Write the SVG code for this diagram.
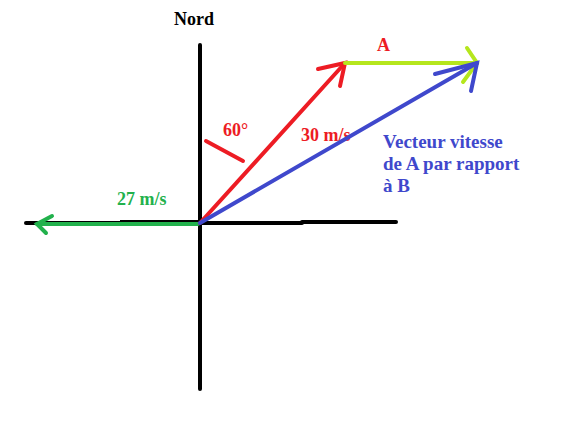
<svg xmlns="http://www.w3.org/2000/svg" width="568" height="432" viewBox="0 0 568 432">
<style>
.ax{stroke:#000;stroke-width:4;fill:none;stroke-linecap:round}
.r{stroke:#ED1C24;stroke-width:4;fill:none;stroke-linecap:round}
.g{stroke:#22B14C;stroke-width:4;fill:none;stroke-linecap:round}
.y{stroke:#B5E61D;stroke-width:4;fill:none;stroke-linecap:round}
.b{stroke:#3F48CC;stroke-width:4;fill:none;stroke-linecap:round}
text{font-family:"Liberation Serif","Times New Roman",serif;font-weight:bold;font-size:18px}
.bt{font-size:19px;fill:#3F48CC}
</style>
<rect width="568" height="432" fill="#fff"/>
<g id="labels">
<text x="174" y="25" fill="#000">Nord</text>
<text x="223" y="136" fill="#ED1C24">60°</text>
<text x="301" y="141" fill="#ED1C24">30 m/s</text>
<text x="377" y="51" fill="#ED1C24">A</text>
<text x="117" y="205" fill="#22B14C">27 m/s</text>
<text class="bt" x="383" y="148">Vecteur vitesse</text>
<text class="bt" x="383" y="170">de A par rapport</text>
<text class="bt" x="383" y="192">à B</text>
</g>
<g id="axes">
<line class="ax" x1="200" y1="45" x2="200" y2="389"/>
<line class="ax" x1="26" y1="223" x2="302" y2="223"/>
<line class="ax" x1="302" y1="222" x2="396" y2="222"/>
<line stroke="#000" stroke-width="2" x1="120" y1="221" x2="198" y2="221"/>
</g>
<g id="connectors">
<g id="v-B">
<line class="g" x1="198" y1="224" x2="37" y2="224"/>
<polyline class="g" points="52,216 37,224 46,233"/>
</g>
<g id="v-A">
<line class="r" x1="200" y1="223" x2="345" y2="63"/>
<polyline class="r" points="318,69 345,63 340,86"/>
</g>
<g id="v-A2">
<line class="y" x1="345" y1="63" x2="477" y2="63"/>
<polyline class="y" points="467,48 477,63 463,82"/>
</g>
<g id="v-AB">
<line class="b" x1="200" y1="223" x2="477" y2="63"/>
<polyline class="b" points="435,74 477,63 471,91"/>
</g>
<line class="r" x1="206" y1="141" x2="243" y2="161"/>
</g>
</svg>
